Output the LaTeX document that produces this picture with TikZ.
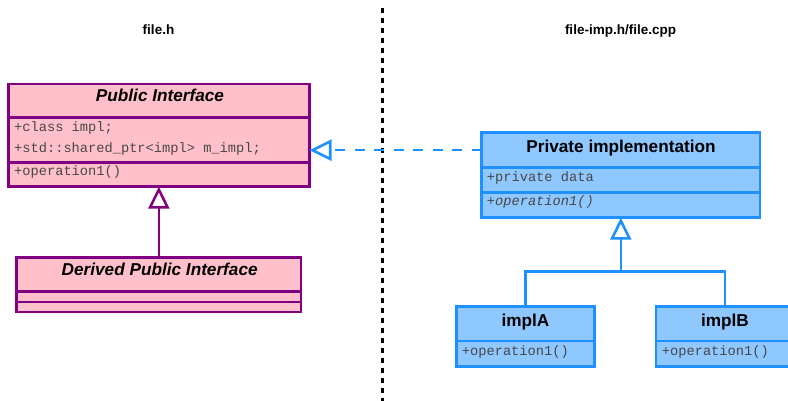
\documentclass[tikz,border=0pt]{standalone}
\usepackage{fontspec}
\setmainfont{Liberation Sans}
\newfontfamily\codefont{Liberation Mono}
\usetikzlibrary{arrows.meta}

\definecolor{pinkfill}{RGB}{255,192,203}
\definecolor{plum}{RGB}{128,0,128}
\definecolor{skyfill}{RGB}{143,199,255}
\definecolor{skyline}{RGB}{30,144,255}
\definecolor{codegray}{RGB}{72,72,72}

\tikzset{
  part/.style={draw, line width=2.5pt, inner sep=0pt, outer sep=0pt, anchor=north west},
  pinkpart/.style={part, draw=plum, fill=pinkfill},
  bluepart/.style={part, draw=skyline, fill=skyfill},
  classname/.style={inner sep=0pt, anchor=base, font=\fontsize{17.2}{20}\selectfont\bfseries},
  member/.style={inner sep=0pt, anchor=base west, text=codegray, font=\fontsize{13.7}{16}\selectfont\codefont},
  header/.style={inner sep=0pt, anchor=base, font=\fontsize{13.5}{16}\selectfont\bfseries},
  plumline/.style={draw=plum, line width=2.5pt},
  skyconn/.style={draw=skyline, line width=2.6pt},
  hollow/.style={-{Triangle[open, length=22pt, width=21pt, fill=white]}},
}

\begin{document}
\begin{tikzpicture}[x=1pt, y=-1pt]
\useasboundingbox (0,0) rectangle (788,401);
\clip (0,0) rectangle (788,401);

% file headers and the dotted split between them
\node[header] (hdrL) at (158.5,34.3) {file.h};
\node[header] (hdrR) at (620.5,34.3) {file-imp.h/file.cpp};
\draw[line width=3pt, dash pattern=on 5pt off 5pt] (382,8) -- (382,401);

% Public Interface
\node[pinkpart, minimum width=301.2pt, minimum height=33.7pt] (pubT) at (8.3,84) {};
\node[pinkpart, minimum width=301.2pt, minimum height=45pt]   (pubA) at (8.3,117.7) {};
\node[pinkpart, minimum width=301.2pt, minimum height=24pt]   (pubO) at (8.3,162.7) {};
\node[classname, font=\fontsize{17.2}{20}\selectfont\bfseries\itshape] (pubN) at (160,101.7) {Public Interface};
\node[member] (pubA1) at (14,132) {+class impl;};
\node[member] (pubA2) at (14,153) {+std::shared\_ptr<impl> m\_impl;};
\node[member] (pubO1) at (14,175.5) {+operation1()};

% Derived Public Interface
\node[pinkpart, minimum width=284.3pt, minimum height=34.4pt] (derT) at (16.7,257.3) {};
\node[pinkpart, minimum width=284.3pt, minimum height=10.3pt] (derA) at (16.7,291.7) {};
\node[pinkpart, minimum width=284.3pt, minimum height=10pt]   (derO) at (16.7,302) {};
\node[classname, font=\fontsize{17.2}{20}\selectfont\bfseries\itshape] (derN) at (159.7,276) {Derived Public Interface};

\draw[plumline, hollow] (derT.north) -- (derT.north |- pubO.south);

% Private implementation
\node[bluepart, minimum width=278.3pt, minimum height=35pt]   (privT) at (481.7,132.7) {};
\node[bluepart, minimum width=278.3pt, minimum height=24.6pt] (privA) at (481.7,167.7) {};
\node[bluepart, minimum width=278.3pt, minimum height=25.4pt] (privO) at (481.7,192.3) {};
\node[classname] (privN) at (621,152.3) {Private implementation};
\node[member] (privA1) at (486.7,181.7) {+private data};
\node[member, font=\fontsize{13.7}{16}\selectfont\codefont\itshape] (privO1) at (486.7,206) {+operation1()};

\draw[skyconn, dash pattern=on 10pt off 9.5pt, hollow] (privT.west) -- (privT.west -| pubA.east);

% implA
\node[bluepart, minimum width=137.6pt, minimum height=34.3pt] (aT) at (456.7,306.7) {};
\node[bluepart, minimum width=137.6pt, minimum height=25.7pt] (aO) at (456.7,341) {};
\node[classname] (aN) at (525.5,326) {implA};
\node[member] (aO1) at (461.7,355) {+operation1()};

% implB
\node[bluepart, minimum width=138pt, minimum height=34.3pt] (bT) at (656,306.7) {};
\node[bluepart, minimum width=138pt, minimum height=25.7pt] (bO) at (656,341) {};
\node[classname] (bN) at (725,326) {implB};
\node[member] (bO1) at (661.7,355) {+operation1()};

% generalisation tree
\coordinate (fork) at (620.8,271.7);
\draw[skyconn] (aT.north) |- (fork) -| (bT.north);
\draw[skyconn, hollow] (fork) -- (fork |- privO.south);
\end{tikzpicture}
\end{document}
